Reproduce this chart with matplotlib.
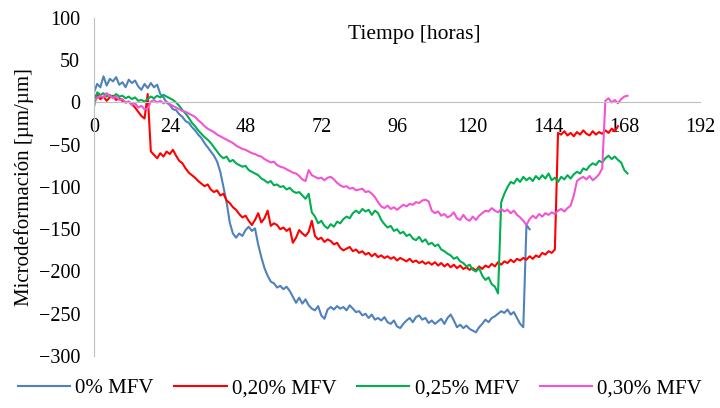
import matplotlib.pyplot as plt
import numpy as np

plt.rcParams['font.family'] = ['Liberation Serif', 'DejaVu Serif']

# horas (una lectura por hora)
blue_v = [12, 22, 18, 31, 20, 28, 25, 30, 21, 24, 18, 27, 23, 26, 19, 15, 22, 17, 23, 18,
          21, 10, 6, 0, -3, -8, -9, -14, -17, -22, -24, -29, -33, -38, -42, -48, -53, -58, -63, -70,
          -82, -100, -118, -142, -155, -160, -155, -158, -151, -147, -152, -149, -168, -183, -196, -205, -212, -214, -219, -217,
          -221, -218, -223, -230, -237, -231, -238, -233, -240, -244, -246, -241, -252, -256, -245, -242, -245, -241, -244, -242,
          -246, -240, -244, -248, -247, -252, -250, -255, -251, -257, -255, -258, -254, -260, -262, -258, -265, -267, -262, -258,
          -255, -260, -254, -252, -257, -255, -261, -258, -262, -259, -256, -262, -255, -251, -258, -266, -263, -267, -264, -268,
          -270, -272, -266, -262, -257, -260, -255, -253, -250, -247, -249, -245, -251, -248, -255, -262, -266, -145, -150]

red_v = [5, 10, 4, 7, 2, 6, 8, 3, 5, 2, 0, 1, -2, -6, -11, -16, -19, 10, -58, -62,
         -66, -60, -64, -58, -61, -56, -63, -69, -72, -78, -83, -86, -89, -93, -96, -99, -97, -103, -106, -104,
         -110, -108, -116, -119, -124, -127, -132, -136, -134, -140, -145, -139, -131, -142, -137, -128, -146, -143, -145, -150,
         -148, -152, -149, -166, -160, -151, -155, -158, -153, -140, -158, -162, -160, -165, -162, -164, -168, -166, -172, -175,
         -173, -171, -176, -174, -178, -176, -180, -178, -182, -179, -183, -181, -184, -182, -185, -183, -187, -184, -186, -188,
         -185, -189, -187, -190, -188, -191, -189, -192, -189, -193, -190, -194, -191, -195, -192, -196, -193, -197, -195, -198,
         -196, -199, -194, -197, -193, -195, -191, -194, -189, -192, -188, -190, -186, -189, -185, -187, -184, -186, -182, -185,
         -181, -183, -178, -180, -176, -178, -174, -36, -38, -34, -39, -36, -40, -35, -38, -33, -37, -39, -34, -38,
         -35, -37, -33, -36, -31, -34, -28]

green_v = [-5, 12, 9, 11, 7, 9, 6, 10, 7, 8, 5, 7, 4, 6, 2, 3, 1, 4, 7, 5,
           8, 6, 9, 7, 5, 3, 0, -4, -9, -13, -18, -24, -28, -33, -37, -41, -44, -48, -53, -58,
           -63, -66, -64, -70, -68, -72, -74, -76, -75, -80, -82, -84, -86, -90, -92, -95, -93, -98, -97, -100,
           -99, -103, -101, -105, -107, -106, -110, -114, -108, -130, -135, -143, -140, -146, -149, -144, -147, -141, -143, -138,
           -135, -137, -131, -128, -131, -126, -129, -127, -133, -128, -131, -139, -144, -148, -146, -152, -150, -155, -153, -158,
           -156, -161, -163, -159, -165, -162, -168, -166, -170, -168, -174, -176, -179, -181, -185, -183, -188, -190, -194, -192,
           -198, -200, -196, -205, -210, -207, -215, -218, -226, -118, -108, -100, -94, -96, -90, -94, -88, -92, -89, -93,
           -87, -91, -86, -90, -84, -92, -89, -94, -88, -91, -86, -90, -85, -82, -84, -78, -80, -75, -72, -74,
           -69, -71, -66, -63, -67, -64, -68, -71, -80, -84]

pink_v = [2, 5, 8, 6, 11, 8, 5, 7, 3, 4, 0, 1, -3, -1, -6, -4, -8, -7, 1, 3,
          0, 2, -1, 1, -2, -4, -6, -8, -10, -11, -13, -15, -17, -21, -24, -28, -31, -33, -35, -38,
          -40, -42, -44, -46, -48, -51, -53, -55, -56, -58, -60, -61, -63, -64, -67, -69, -71, -70, -74, -76,
          -77, -79, -81, -83, -84, -87, -91, -93, -80, -86, -88, -90, -89, -92, -89, -88, -91, -95, -98, -100,
          -99, -102, -101, -104, -103, -102, -106, -105, -108, -112, -118, -123, -125, -122, -126, -124, -127, -124, -121, -123,
          -120, -121, -118, -119, -116, -115, -117, -128, -131, -129, -134, -132, -136, -134, -130, -137, -139, -133, -138, -140,
          -135, -139, -134, -131, -128, -129, -125, -128, -130, -126, -129, -127, -131, -128, -133, -136, -140, -145, -138, -134,
          -137, -132, -135, -131, -133, -130, -132, -128, -126, -129, -125, -122, -110, -93, -90, -88, -91, -87, -92, -89,
          -85, -78, 2, 5, 0, 3, -1, 4, 7, 8]

series = [
    ('0% MFV', blue_v, '#4F81BD'),
    ('0,20% MFV', red_v, '#FF0000'),
    ('0,25% MFV', green_v, '#00B050'),
    ('0,30% MFV', pink_v, '#F254D4'),
]

xticks = np.arange(0, 193, 24)
yticks = np.arange(-300, 101, 50)

fig = plt.figure(figsize=(7.2, 4.08), dpi=100)
ax = fig.add_axes([0.1306, 0.1275, 0.8417, 0.8284])

for name, vals, col in series:
    ax.plot(np.arange(len(vals)), vals, color=col, linewidth=1.5, label=name)

ax.set_xlim(0, 192)
ax.set_ylim(-300, 100)
ax.set_xticks(xticks)
ax.set_yticks(yticks)

ax.spines['right'].set_color('none')
ax.spines['top'].set_color('none')
ax.spines['bottom'].set_position(('data', 0))
ax.spines['bottom'].set_color('#BFBFBF')
ax.spines['left'].set_color('#BFBFBF')
ax.tick_params(axis='both', length=0, labelsize=14.5)
ax.tick_params(axis='x', pad=11)
ax.tick_params(axis='y', pad=10)

ax.text(0.528, 0.95, 'Tiempo [horas]', transform=ax.transAxes,
        ha='center', va='center', fontsize=15.5)
ax.set_ylabel('Microdeformación [µm/µm]', fontsize=15, labelpad=3)

fig.legend(loc='center', bbox_to_anchor=(0.5, 0.048), ncol=4, frameon=False,
           fontsize=15, handlelength=2.5, columnspacing=1.0, handletextpad=0.25)

fig.savefig('out.png', dpi=100)
